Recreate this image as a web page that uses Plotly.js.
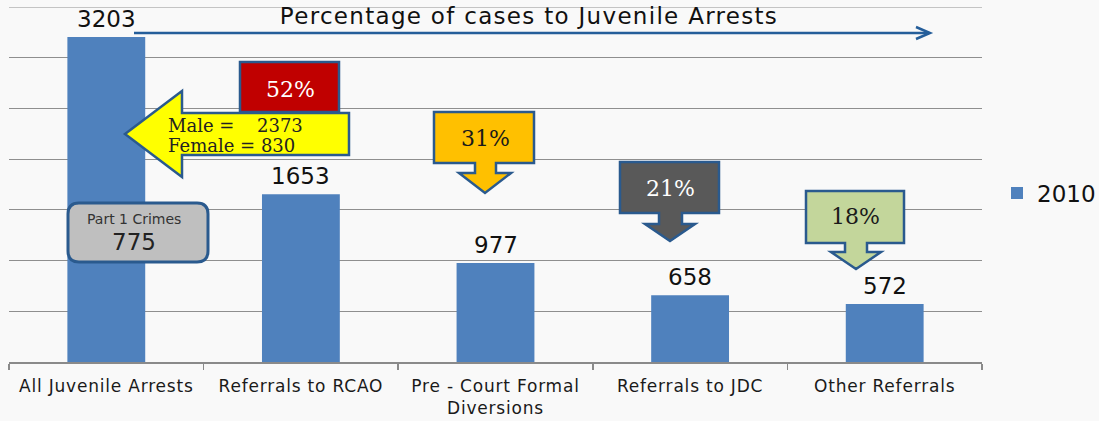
<!DOCTYPE html>
<html>
<head>
<meta charset="utf-8">
<script src="https://cdn.plot.ly/plotly-3.0.1.min.js"></script>
<style>
html,body{margin:0;padding:0;background:#f9f9f9;}
.gtitle{letter-spacing:1.3px;}
.xtick text{letter-spacing:0.8px;}
</style>
</head>
<body>
<div id="chart" style="width:1099px;height:421px;"></div>
<script>
// ---- data ----
const categories = ['All Juvenile Arrests', 'Referrals to RCAO', 'Pre - Court Formal<br>Diversions', 'Referrals to JDC', 'Other Referrals'];
const arrests2010 = [3203, 1653, 977, 658, 572];
const seriesName = '2010';
const percentLabels = ['52%', '31%', '21%', '18%'];
const genderNames = ['Male', 'Female'];
const genderCounts = [2373, 830];
const part1Label = 'Part 1 Crimes';
const part1Count = 775;
const chartTitle = 'Percentage of cases to Juvenile Arrests';

// ---- geometry helpers (pixel -> paper) ----
const L = 9, R = 982, T = 7, B = 362;
function X(p) { return (p - L) / (R - L); }
function Y(p) { return (B - p) / (B - T); }
function poly(pts, close) {
  return 'M' + pts.map(p => X(p[0]).toFixed(5) + ',' + Y(p[1]).toFixed(5)).join('L') + (close ? 'Z' : '');
}
function roundRect(x0, y0, x1, y1, r) {
  const P = (x, y) => X(x).toFixed(5) + ',' + Y(y).toFixed(5);
  return 'M' + P(x0 + r, y0) + 'L' + P(x1 - r, y0) + 'Q' + P(x1, y0) + ' ' + P(x1, y0 + r) +
    'L' + P(x1, y1 - r) + 'Q' + P(x1, y1) + ' ' + P(x1 - r, y1) +
    'L' + P(x0 + r, y1) + 'Q' + P(x0, y1) + ' ' + P(x0, y1 - r) +
    'L' + P(x0, y0 + r) + 'Q' + P(x0, y0) + ' ' + P(x0 + r, y0) + 'Z';
}
function downArrow(x0, x1, yTop, yBox, sx0, sx1, yHead, wx0, wx1, yTip) {
  const cx = (wx0 + wx1) / 2;
  return poly([[x0, yTop], [x1, yTop], [x1, yBox], [sx1, yBox], [sx1, yHead], [wx1, yHead], [cx, yTip],
    [wx0, yHead], [sx0, yHead], [sx0, yBox], [x0, yBox]], true);
}

const BORDER = '#2A5A8E';
const SANS = 'DejaVu Sans, Verdana, sans-serif';
const SERIF = 'DejaVu Serif, Georgia, serif';

const trace = {
  type: 'bar',
  x: categories,
  y: arrests2010,
  name: seriesName,
  width: 0.4,
  marker: { color: '#4F81BD' },
  hoverinfo: 'skip'
};

const shapes = [
  // top grid line (range edge)
  { type: 'line', xref: 'paper', yref: 'y', x0: 0, x1: 1, y0: 3500, y1: 3500,
    line: { color: '#8f8f8f', width: 1 }, layer: 'below' },
  // title arrow
  { type: 'path', xref: 'paper', yref: 'paper', path: poly([[134, 33], [929, 33]], false),
    line: { color: '#255E9A', width: 2.5 }, layer: 'above' },
  { type: 'path', xref: 'paper', yref: 'paper', path: poly([[916, 27], [930, 33], [916, 39]], false),
    line: { color: '#255E9A', width: 2.5 }, layer: 'above' },
  // red box
  { type: 'path', xref: 'paper', yref: 'paper', path: poly([[240, 62], [339, 62], [339, 112], [240, 112]], true),
    fillcolor: '#C00000', line: { color: BORDER, width: 2.5 }, layer: 'above' },
  // yellow left arrow
  { type: 'path', xref: 'paper', yref: 'paper',
    path: poly([[125, 134], [182, 91], [182, 113], [349, 113], [349, 155], [182, 155], [182, 177]], true),
    fillcolor: '#FFFF00', line: { color: BORDER, width: 2.5 }, layer: 'above' },
  // gold down arrow
  { type: 'path', xref: 'paper', yref: 'paper',
    path: downArrow(434, 534, 112, 163, 475, 496, 173, 459, 511, 193),
    fillcolor: '#FFC000', line: { color: BORDER, width: 2.5 }, layer: 'above' },
  // dark gray down arrow
  { type: 'path', xref: 'paper', yref: 'paper',
    path: downArrow(620, 719, 162, 213, 659, 682, 224, 645, 695, 241),
    fillcolor: '#595959', line: { color: BORDER, width: 2.5 }, layer: 'above' },
  // green down arrow
  { type: 'path', xref: 'paper', yref: 'paper',
    path: downArrow(806, 904, 191, 243, 845, 867, 252, 831, 881, 269),
    fillcolor: '#C3D69B', line: { color: BORDER, width: 2.5 }, layer: 'above' },
  // Part 1 Crimes rounded box
  { type: 'path', xref: 'paper', yref: 'paper', path: roundRect(68, 203, 208, 262, 11),
    fillcolor: '#BFBFBF', line: { color: BORDER, width: 3 }, layer: 'above' }
];

const annotations = [];
// data labels
categories.forEach((c, i) => {
  annotations.push({ x: c, y: arrests2010[i], xref: 'x', yref: 'y', text: String(arrests2010[i]),
    showarrow: false, yanchor: 'middle', yshift: 18, font: { family: SANS, size: 23, color: '#111' } });
});
function pa(px, py, text, opts) {
  return Object.assign({ xref: 'paper', yref: 'paper', x: X(px), y: Y(py), text: text, showarrow: false,
    xanchor: 'center', yanchor: 'middle' }, opts);
}
annotations.push(pa(290, 89, percentLabels[0], { font: { family: SERIF, size: 22, color: '#ffffff' } }));
annotations.push(pa(485, 139, percentLabels[1], { font: { family: SERIF, size: 22, color: '#1a1a1a' } }));
annotations.push(pa(670, 188, percentLabels[2], { font: { family: SERIF, size: 22, color: '#ffffff' } }));
annotations.push(pa(855, 216, percentLabels[3], { font: { family: SERIF, size: 22, color: '#1a1a1a' } }));
annotations.push(pa(166, 125, genderNames[0] + ' =', { xanchor: 'left', font: { family: SERIF, size: 18, color: '#222' } }));
annotations.push(pa(255, 125, String(genderCounts[0]), { xanchor: 'left', font: { family: SERIF, size: 18, color: '#222' } }));
annotations.push(pa(166, 145, genderNames[1] + ' = ' + genderCounts[1], { xanchor: 'left', font: { family: SERIF, size: 18, color: '#222' } }));
annotations.push(pa(134, 219, part1Label, { font: { family: SANS, size: 14, color: '#333' } }));
annotations.push(pa(134, 242, String(part1Count), { font: { family: SANS, size: 23, color: '#222' } }));

const layout = {
  width: 1099, height: 421, autosize: false,
  margin: { l: L, r: 1099 - R, t: T, b: 421 - B, pad: 0, autoexpand: false },
  paper_bgcolor: '#f9f9f9', plot_bgcolor: '#f9f9f9',
  title: { text: chartTitle, xref: 'container', yref: 'container', x: 529 / 1099, y: 1 - 16 / 421,
    xanchor: 'center', yanchor: 'middle', font: { family: SANS, size: 23, color: '#111' } },
  xaxis: {
    type: 'category', tickson: 'boundaries', ticks: 'outside', ticklen: 6, tickcolor: '#8a8a8a', tickwidth: 1.5,
    showline: true, linecolor: '#8a8a8a', linewidth: 1.5, showgrid: false, ticklabelstandoff: 8,
    tickfont: { family: SANS, size: 17, color: '#1a1a1a' }, fixedrange: true
  },
  yaxis: {
    range: [0, 3500], dtick: 500, showticklabels: false, showgrid: true, gridcolor: '#8f8f8f', gridwidth: 1,
    zeroline: false, showline: false, ticks: '', fixedrange: true
  },
  showlegend: true,
  legend: { x: X(997), y: Y(193), xanchor: 'left', yanchor: 'middle', xref: 'paper', yref: 'paper',
    bgcolor: 'rgba(0,0,0,0)', font: { family: SANS, size: 23, color: '#111' } },
  shapes: shapes,
  annotations: annotations
};

Plotly.newPlot('chart', [trace], layout, { displayModeBar: false, staticPlot: true });
</script>
</body>
</html>
